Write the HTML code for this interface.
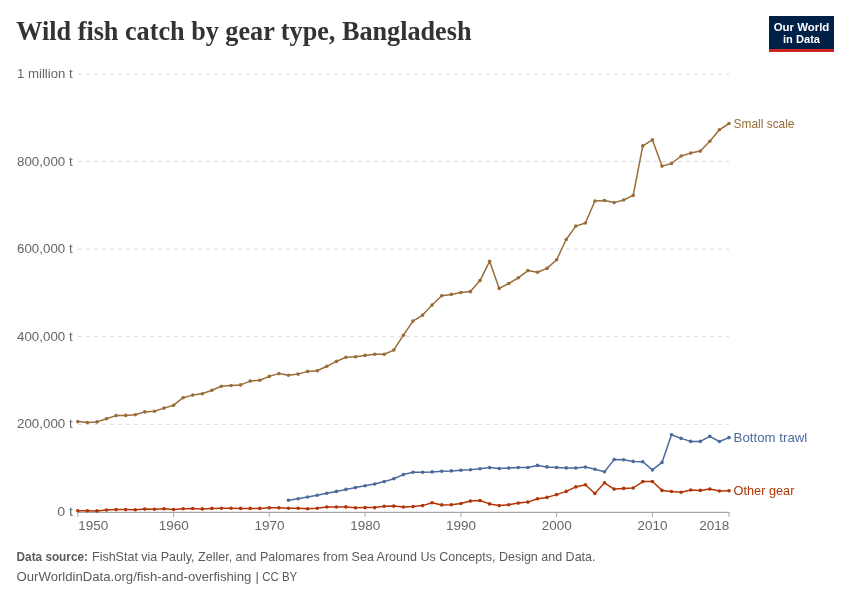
<!DOCTYPE html>
<html lang="en"><head><meta charset="utf-8"><title>Wild fish catch by gear type, Bangladesh</title>
<style>
html,body{margin:0;padding:0;background:#fff;}
body{width:850px;height:600px;overflow:hidden;font-family:"Liberation Sans",sans-serif;}
svg{display:block;}
text{font-family:"Liberation Sans",sans-serif;}
.title{font-family:"Liberation Serif",serif;font-weight:700;fill:#333;}
.ax{fill:#666;font-size:12.4px;}
.ft{fill:#5b5b5b;font-size:13px;}
.lb{font-size:13px;}
</style></head><body>
<svg width="850" height="600" viewBox="0 0 850 600">
<rect width="850" height="600" fill="#fff"/>
<text class="title" x="16.3" y="39.8" font-size="27" textLength="455.2" lengthAdjust="spacingAndGlyphs">Wild fish catch by gear type, Bangladesh</text>
<g>
<rect x="769" y="16" width="65" height="36" fill="#002147"/>
<rect x="769" y="49" width="65" height="3" fill="#ce261e"/>
<text x="801.5" y="30.6" text-anchor="middle" font-size="11.6" font-weight="700" fill="#fff" textLength="55.6" lengthAdjust="spacingAndGlyphs">Our World</text>
<text x="801.5" y="42.7" text-anchor="middle" font-size="11.6" font-weight="700" fill="#fff" textLength="37" lengthAdjust="spacingAndGlyphs">in Data</text>
</g>
<line x1="77.8" x2="729" y1="73.95" y2="73.95" stroke="#d9d9d9" stroke-width="1" stroke-dasharray="4,4"/>
<text class="ax" x="17" y="78.0" textLength="55.7" lengthAdjust="spacingAndGlyphs">1 million t</text>
<line x1="77.8" x2="729" y1="161.55" y2="161.55" stroke="#d9d9d9" stroke-width="1" stroke-dasharray="4,4"/>
<text class="ax" x="17" y="165.6" textLength="55.7" lengthAdjust="spacingAndGlyphs">800,000 t</text>
<line x1="77.8" x2="729" y1="249.15" y2="249.15" stroke="#d9d9d9" stroke-width="1" stroke-dasharray="4,4"/>
<text class="ax" x="17" y="253.2" textLength="55.7" lengthAdjust="spacingAndGlyphs">600,000 t</text>
<line x1="77.8" x2="729" y1="336.75" y2="336.75" stroke="#d9d9d9" stroke-width="1" stroke-dasharray="4,4"/>
<text class="ax" x="17" y="340.8" textLength="55.7" lengthAdjust="spacingAndGlyphs">400,000 t</text>
<line x1="77.8" x2="729" y1="424.35" y2="424.35" stroke="#d9d9d9" stroke-width="1" stroke-dasharray="4,4"/>
<text class="ax" x="17" y="428.4" textLength="55.7" lengthAdjust="spacingAndGlyphs">200,000 t</text>
<text class="ax" x="57.2" y="516.3" textLength="15.8" lengthAdjust="spacingAndGlyphs">0 t</text>
<line x1="77.8" x2="729" y1="511.9" y2="511.9" stroke="#ddd" stroke-width="1"/>
<line x1="77.3" x2="729.5" y1="512.5" y2="512.5" stroke="#a6a6a6" stroke-width="1"/>
<line x1="77.8" x2="77.8" y1="512" y2="517" stroke="#a6a6a6" stroke-width="1"/>
<text class="ax" x="78.2" y="530.1" textLength="30" lengthAdjust="spacingAndGlyphs">1950</text>
<line x1="173.6" x2="173.6" y1="512" y2="517" stroke="#a6a6a6" stroke-width="1"/>
<text class="ax" x="173.8" y="530.1" text-anchor="middle" textLength="30" lengthAdjust="spacingAndGlyphs">1960</text>
<line x1="269.3" x2="269.3" y1="512" y2="517" stroke="#a6a6a6" stroke-width="1"/>
<text class="ax" x="269.5" y="530.1" text-anchor="middle" textLength="30" lengthAdjust="spacingAndGlyphs">1970</text>
<line x1="365.1" x2="365.1" y1="512" y2="517" stroke="#a6a6a6" stroke-width="1"/>
<text class="ax" x="365.3" y="530.1" text-anchor="middle" textLength="30" lengthAdjust="spacingAndGlyphs">1980</text>
<line x1="460.9" x2="460.9" y1="512" y2="517" stroke="#a6a6a6" stroke-width="1"/>
<text class="ax" x="461.1" y="530.1" text-anchor="middle" textLength="30" lengthAdjust="spacingAndGlyphs">1990</text>
<line x1="556.6" x2="556.6" y1="512" y2="517" stroke="#a6a6a6" stroke-width="1"/>
<text class="ax" x="556.8" y="530.1" text-anchor="middle" textLength="30" lengthAdjust="spacingAndGlyphs">2000</text>
<line x1="652.4" x2="652.4" y1="512" y2="517" stroke="#a6a6a6" stroke-width="1"/>
<text class="ax" x="652.6" y="530.1" text-anchor="middle" textLength="30" lengthAdjust="spacingAndGlyphs">2010</text>
<line x1="729.0" x2="729.0" y1="512" y2="517" stroke="#a6a6a6" stroke-width="1"/>
<text class="ax" x="729.3" y="530.1" text-anchor="end" textLength="30" lengthAdjust="spacingAndGlyphs">2018</text>
<path d="M77.8,421.6 L87.4,422.5 L97.0,421.9 L106.5,418.8 L116.1,415.6 L125.7,415.4 L135.3,414.7 L144.8,411.9 L154.4,411.3 L164.0,408.1 L173.6,405.2 L183.1,397.7 L192.7,395.1 L202.3,393.8 L211.9,390.3 L221.4,386.3 L231.0,385.5 L240.6,384.9 L250.2,381.1 L259.8,380.2 L269.3,376.4 L278.9,373.6 L288.5,375.3 L298.1,374.1 L307.6,371.4 L317.2,370.7 L326.8,366.3 L336.4,361.4 L345.9,357.3 L355.5,356.7 L365.1,355.4 L374.7,354.3 L384.2,354.3 L393.8,350.1 L403.4,335.2 L413.0,321.1 L422.6,315.1 L432.1,305.0 L441.7,295.8 L451.3,294.4 L460.9,292.5 L470.4,291.6 L480.0,280.6 L489.6,261.3 L499.2,288.4 L508.7,283.5 L518.3,277.8 L527.9,270.6 L537.5,272.3 L547.0,268.4 L556.6,259.8 L566.2,239.5 L575.8,226.1 L585.4,223.0 L594.9,201.0 L604.5,200.5 L614.1,202.6 L623.7,200.0 L633.2,195.4 L642.8,145.9 L652.4,139.9 L662.0,166.1 L671.5,163.5 L681.1,156.0 L690.7,153.1 L700.3,151.1 L709.8,141.2 L719.4,129.8 L729.0,123.5" fill="none" stroke="#996D39" stroke-width="1.5" stroke-linejoin="round" stroke-linecap="round"/>
<g fill="#996D39"><circle cx="77.8" cy="421.6" r="1.8"/><circle cx="87.4" cy="422.5" r="1.8"/><circle cx="97.0" cy="421.9" r="1.8"/><circle cx="106.5" cy="418.8" r="1.8"/><circle cx="116.1" cy="415.6" r="1.8"/><circle cx="125.7" cy="415.4" r="1.8"/><circle cx="135.3" cy="414.7" r="1.8"/><circle cx="144.8" cy="411.9" r="1.8"/><circle cx="154.4" cy="411.3" r="1.8"/><circle cx="164.0" cy="408.1" r="1.8"/><circle cx="173.6" cy="405.2" r="1.8"/><circle cx="183.1" cy="397.7" r="1.8"/><circle cx="192.7" cy="395.1" r="1.8"/><circle cx="202.3" cy="393.8" r="1.8"/><circle cx="211.9" cy="390.3" r="1.8"/><circle cx="221.4" cy="386.3" r="1.8"/><circle cx="231.0" cy="385.5" r="1.8"/><circle cx="240.6" cy="384.9" r="1.8"/><circle cx="250.2" cy="381.1" r="1.8"/><circle cx="259.8" cy="380.2" r="1.8"/><circle cx="269.3" cy="376.4" r="1.8"/><circle cx="278.9" cy="373.6" r="1.8"/><circle cx="288.5" cy="375.3" r="1.8"/><circle cx="298.1" cy="374.1" r="1.8"/><circle cx="307.6" cy="371.4" r="1.8"/><circle cx="317.2" cy="370.7" r="1.8"/><circle cx="326.8" cy="366.3" r="1.8"/><circle cx="336.4" cy="361.4" r="1.8"/><circle cx="345.9" cy="357.3" r="1.8"/><circle cx="355.5" cy="356.7" r="1.8"/><circle cx="365.1" cy="355.4" r="1.8"/><circle cx="374.7" cy="354.3" r="1.8"/><circle cx="384.2" cy="354.3" r="1.8"/><circle cx="393.8" cy="350.1" r="1.8"/><circle cx="403.4" cy="335.2" r="1.8"/><circle cx="413.0" cy="321.1" r="1.8"/><circle cx="422.6" cy="315.1" r="1.8"/><circle cx="432.1" cy="305.0" r="1.8"/><circle cx="441.7" cy="295.8" r="1.8"/><circle cx="451.3" cy="294.4" r="1.8"/><circle cx="460.9" cy="292.5" r="1.8"/><circle cx="470.4" cy="291.6" r="1.8"/><circle cx="480.0" cy="280.6" r="1.8"/><circle cx="489.6" cy="261.3" r="1.8"/><circle cx="499.2" cy="288.4" r="1.8"/><circle cx="508.7" cy="283.5" r="1.8"/><circle cx="518.3" cy="277.8" r="1.8"/><circle cx="527.9" cy="270.6" r="1.8"/><circle cx="537.5" cy="272.3" r="1.8"/><circle cx="547.0" cy="268.4" r="1.8"/><circle cx="556.6" cy="259.8" r="1.8"/><circle cx="566.2" cy="239.5" r="1.8"/><circle cx="575.8" cy="226.1" r="1.8"/><circle cx="585.4" cy="223.0" r="1.8"/><circle cx="594.9" cy="201.0" r="1.8"/><circle cx="604.5" cy="200.5" r="1.8"/><circle cx="614.1" cy="202.6" r="1.8"/><circle cx="623.7" cy="200.0" r="1.8"/><circle cx="633.2" cy="195.4" r="1.8"/><circle cx="642.8" cy="145.9" r="1.8"/><circle cx="652.4" cy="139.9" r="1.8"/><circle cx="662.0" cy="166.1" r="1.8"/><circle cx="671.5" cy="163.5" r="1.8"/><circle cx="681.1" cy="156.0" r="1.8"/><circle cx="690.7" cy="153.1" r="1.8"/><circle cx="700.3" cy="151.1" r="1.8"/><circle cx="709.8" cy="141.2" r="1.8"/><circle cx="719.4" cy="129.8" r="1.8"/><circle cx="729.0" cy="123.5" r="1.8"/></g>
<path d="M288.5,500.3 L298.1,498.8 L307.6,497.0 L317.2,495.3 L326.8,493.3 L336.4,491.4 L345.9,489.4 L355.5,487.6 L365.1,485.7 L374.7,484.0 L384.2,481.6 L393.8,478.8 L403.4,474.6 L413.0,472.3 L422.6,472.3 L432.1,471.9 L441.7,471.2 L451.3,470.9 L460.9,470.2 L470.4,469.8 L480.0,468.8 L489.6,467.6 L499.2,468.6 L508.7,468.1 L518.3,467.5 L527.9,467.5 L537.5,465.4 L547.0,466.9 L556.6,467.5 L566.2,467.9 L575.8,468.1 L585.4,467.1 L594.9,469.3 L604.5,471.8 L614.1,459.6 L623.7,459.7 L633.2,461.4 L642.8,461.7 L652.4,469.9 L662.0,462.4 L671.5,434.7 L681.1,438.4 L690.7,441.4 L700.3,441.4 L709.8,436.4 L719.4,441.5 L729.0,437.6" fill="none" stroke="#4C6A9C" stroke-width="1.5" stroke-linejoin="round" stroke-linecap="round"/>
<g fill="#4C6A9C"><circle cx="288.5" cy="500.3" r="1.8"/><circle cx="298.1" cy="498.8" r="1.8"/><circle cx="307.6" cy="497.0" r="1.8"/><circle cx="317.2" cy="495.3" r="1.8"/><circle cx="326.8" cy="493.3" r="1.8"/><circle cx="336.4" cy="491.4" r="1.8"/><circle cx="345.9" cy="489.4" r="1.8"/><circle cx="355.5" cy="487.6" r="1.8"/><circle cx="365.1" cy="485.7" r="1.8"/><circle cx="374.7" cy="484.0" r="1.8"/><circle cx="384.2" cy="481.6" r="1.8"/><circle cx="393.8" cy="478.8" r="1.8"/><circle cx="403.4" cy="474.6" r="1.8"/><circle cx="413.0" cy="472.3" r="1.8"/><circle cx="422.6" cy="472.3" r="1.8"/><circle cx="432.1" cy="471.9" r="1.8"/><circle cx="441.7" cy="471.2" r="1.8"/><circle cx="451.3" cy="470.9" r="1.8"/><circle cx="460.9" cy="470.2" r="1.8"/><circle cx="470.4" cy="469.8" r="1.8"/><circle cx="480.0" cy="468.8" r="1.8"/><circle cx="489.6" cy="467.6" r="1.8"/><circle cx="499.2" cy="468.6" r="1.8"/><circle cx="508.7" cy="468.1" r="1.8"/><circle cx="518.3" cy="467.5" r="1.8"/><circle cx="527.9" cy="467.5" r="1.8"/><circle cx="537.5" cy="465.4" r="1.8"/><circle cx="547.0" cy="466.9" r="1.8"/><circle cx="556.6" cy="467.5" r="1.8"/><circle cx="566.2" cy="467.9" r="1.8"/><circle cx="575.8" cy="468.1" r="1.8"/><circle cx="585.4" cy="467.1" r="1.8"/><circle cx="594.9" cy="469.3" r="1.8"/><circle cx="604.5" cy="471.8" r="1.8"/><circle cx="614.1" cy="459.6" r="1.8"/><circle cx="623.7" cy="459.7" r="1.8"/><circle cx="633.2" cy="461.4" r="1.8"/><circle cx="642.8" cy="461.7" r="1.8"/><circle cx="652.4" cy="469.9" r="1.8"/><circle cx="662.0" cy="462.4" r="1.8"/><circle cx="671.5" cy="434.7" r="1.8"/><circle cx="681.1" cy="438.4" r="1.8"/><circle cx="690.7" cy="441.4" r="1.8"/><circle cx="700.3" cy="441.4" r="1.8"/><circle cx="709.8" cy="436.4" r="1.8"/><circle cx="719.4" cy="441.5" r="1.8"/><circle cx="729.0" cy="437.6" r="1.8"/></g>
<path d="M77.8,510.8 L87.4,510.8 L97.0,510.9 L106.5,510.0 L116.1,509.6 L125.7,509.6 L135.3,509.8 L144.8,509.1 L154.4,509.3 L164.0,508.8 L173.6,509.5 L183.1,508.7 L192.7,508.5 L202.3,508.9 L211.9,508.4 L221.4,508.2 L231.0,508.2 L240.6,508.4 L250.2,508.4 L259.8,508.4 L269.3,507.8 L278.9,507.8 L288.5,508.2 L298.1,508.2 L307.6,508.7 L317.2,508.2 L326.8,507.0 L336.4,507.0 L345.9,506.9 L355.5,507.7 L365.1,507.6 L374.7,507.6 L384.2,506.2 L393.8,506.1 L403.4,507.0 L413.0,506.6 L422.6,505.6 L432.1,502.8 L441.7,504.9 L451.3,504.8 L460.9,503.5 L470.4,501.1 L480.0,500.5 L489.6,503.9 L499.2,505.6 L508.7,504.8 L518.3,503.1 L527.9,502.1 L537.5,498.7 L547.0,497.4 L556.6,494.6 L566.2,491.4 L575.8,486.9 L585.4,484.7 L594.9,493.5 L604.5,482.8 L614.1,489.1 L623.7,488.4 L633.2,488.0 L642.8,481.6 L652.4,481.5 L662.0,490.4 L671.5,491.5 L681.1,492.2 L690.7,490.0 L700.3,490.4 L709.8,489.1 L719.4,491.0 L729.0,490.7" fill="none" stroke="#B13507" stroke-width="1.5" stroke-linejoin="round" stroke-linecap="round"/>
<g fill="#B13507"><circle cx="77.8" cy="510.8" r="1.8"/><circle cx="87.4" cy="510.8" r="1.8"/><circle cx="97.0" cy="510.9" r="1.8"/><circle cx="106.5" cy="510.0" r="1.8"/><circle cx="116.1" cy="509.6" r="1.8"/><circle cx="125.7" cy="509.6" r="1.8"/><circle cx="135.3" cy="509.8" r="1.8"/><circle cx="144.8" cy="509.1" r="1.8"/><circle cx="154.4" cy="509.3" r="1.8"/><circle cx="164.0" cy="508.8" r="1.8"/><circle cx="173.6" cy="509.5" r="1.8"/><circle cx="183.1" cy="508.7" r="1.8"/><circle cx="192.7" cy="508.5" r="1.8"/><circle cx="202.3" cy="508.9" r="1.8"/><circle cx="211.9" cy="508.4" r="1.8"/><circle cx="221.4" cy="508.2" r="1.8"/><circle cx="231.0" cy="508.2" r="1.8"/><circle cx="240.6" cy="508.4" r="1.8"/><circle cx="250.2" cy="508.4" r="1.8"/><circle cx="259.8" cy="508.4" r="1.8"/><circle cx="269.3" cy="507.8" r="1.8"/><circle cx="278.9" cy="507.8" r="1.8"/><circle cx="288.5" cy="508.2" r="1.8"/><circle cx="298.1" cy="508.2" r="1.8"/><circle cx="307.6" cy="508.7" r="1.8"/><circle cx="317.2" cy="508.2" r="1.8"/><circle cx="326.8" cy="507.0" r="1.8"/><circle cx="336.4" cy="507.0" r="1.8"/><circle cx="345.9" cy="506.9" r="1.8"/><circle cx="355.5" cy="507.7" r="1.8"/><circle cx="365.1" cy="507.6" r="1.8"/><circle cx="374.7" cy="507.6" r="1.8"/><circle cx="384.2" cy="506.2" r="1.8"/><circle cx="393.8" cy="506.1" r="1.8"/><circle cx="403.4" cy="507.0" r="1.8"/><circle cx="413.0" cy="506.6" r="1.8"/><circle cx="422.6" cy="505.6" r="1.8"/><circle cx="432.1" cy="502.8" r="1.8"/><circle cx="441.7" cy="504.9" r="1.8"/><circle cx="451.3" cy="504.8" r="1.8"/><circle cx="460.9" cy="503.5" r="1.8"/><circle cx="470.4" cy="501.1" r="1.8"/><circle cx="480.0" cy="500.5" r="1.8"/><circle cx="489.6" cy="503.9" r="1.8"/><circle cx="499.2" cy="505.6" r="1.8"/><circle cx="508.7" cy="504.8" r="1.8"/><circle cx="518.3" cy="503.1" r="1.8"/><circle cx="527.9" cy="502.1" r="1.8"/><circle cx="537.5" cy="498.7" r="1.8"/><circle cx="547.0" cy="497.4" r="1.8"/><circle cx="556.6" cy="494.6" r="1.8"/><circle cx="566.2" cy="491.4" r="1.8"/><circle cx="575.8" cy="486.9" r="1.8"/><circle cx="585.4" cy="484.7" r="1.8"/><circle cx="594.9" cy="493.5" r="1.8"/><circle cx="604.5" cy="482.8" r="1.8"/><circle cx="614.1" cy="489.1" r="1.8"/><circle cx="623.7" cy="488.4" r="1.8"/><circle cx="633.2" cy="488.0" r="1.8"/><circle cx="642.8" cy="481.6" r="1.8"/><circle cx="652.4" cy="481.5" r="1.8"/><circle cx="662.0" cy="490.4" r="1.8"/><circle cx="671.5" cy="491.5" r="1.8"/><circle cx="681.1" cy="492.2" r="1.8"/><circle cx="690.7" cy="490.0" r="1.8"/><circle cx="700.3" cy="490.4" r="1.8"/><circle cx="709.8" cy="489.1" r="1.8"/><circle cx="719.4" cy="491.0" r="1.8"/><circle cx="729.0" cy="490.7" r="1.8"/></g>
<text class="lb" x="733.6" y="128.1" fill="#996D39" textLength="60.9" lengthAdjust="spacingAndGlyphs">Small scale</text>
<text class="lb" x="733.6" y="442.2" fill="#4C6A9C" textLength="73.7" lengthAdjust="spacingAndGlyphs">Bottom trawl</text>
<text class="lb" x="733.6" y="495.4" fill="#B13507" textLength="60.8" lengthAdjust="spacingAndGlyphs">Other gear</text>
<text class="ft" x="16.6" y="560.7" font-weight="700" textLength="71.3" lengthAdjust="spacingAndGlyphs">Data source:</text>
<text class="ft" x="92.0" y="560.7" textLength="503.5" lengthAdjust="spacingAndGlyphs">FishStat via Pauly, Zeller, and Palomares from Sea Around Us Concepts, Design and Data.</text>
<text class="ft" x="16.6" y="581.1" textLength="234.8" lengthAdjust="spacingAndGlyphs">OurWorldinData.org/fish-and-overfishing</text>
<text class="ft" x="255.5" y="581.1">|</text>
<text class="ft" x="262.2" y="581.1" textLength="35" lengthAdjust="spacingAndGlyphs">CC BY</text>
</svg>
</body></html>
